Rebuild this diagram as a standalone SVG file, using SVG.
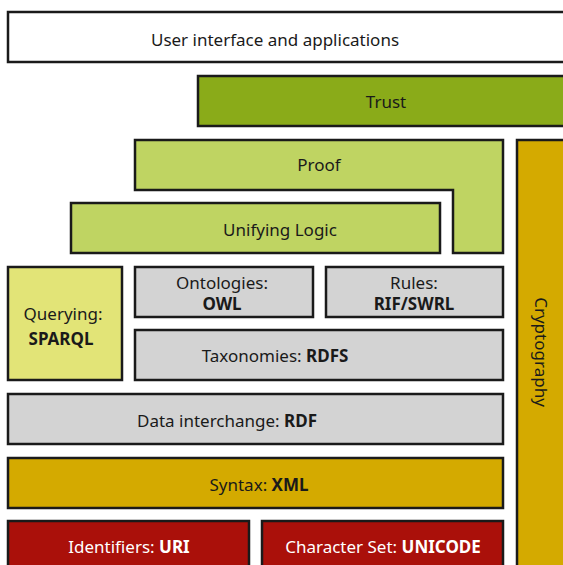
<svg xmlns="http://www.w3.org/2000/svg" width="563" height="565" viewBox="0 0 563 565">
<style>
.n { stroke: #1a1a1a; stroke-width: 2.5; }
text { font-family: "Noto Sans", "Open Sans", sans-serif; font-size: 17px; fill: #1a1a1a; text-anchor: middle; }
.b { font-weight: bold; }
.w { fill: #ffffff; }
.white { fill: #ffffff; }
.trust { fill: #8aab19; }
.lg { fill: #bfd462; }
.q { fill: #e2e477; }
.grey { fill: #d3d3d3; }
.gold { fill: #d4aa00; }
.red { fill: #aa100a; }
</style>
<rect width="563" height="565" fill="#ffffff"/>
<g id="ui"><rect class="n white" x="8" y="12" width="570" height="50"/><text x="275" y="46">User interface and applications</text></g>
<g id="trust"><rect class="n trust" x="198" y="76" width="380" height="50"/><text x="386" y="108">Trust</text></g>
<g id="proof"><path class="n lg" d="M135 140 H503 V253 H453 V190 H135 Z"/><text x="319" y="171">Proof</text></g>
<g id="logic"><rect class="n lg" x="71" y="203" width="369" height="50"/><text x="280" y="236">Unifying Logic</text></g>
<g id="crypto"><rect class="n gold" x="517" y="140" width="60" height="440"/><text transform="translate(535 352) rotate(90)">Cryptography</text></g>
<g id="query"><rect class="n q" x="8" y="267" width="114" height="113"/><text x="63" y="320">Querying:</text><text class="b" x="61" y="345">SPARQL</text></g>
<g id="owl"><rect class="n grey" x="135" y="267" width="178" height="50"/><text x="222" y="289">Ontologies:</text><text class="b" x="222" y="310">OWL</text></g>
<g id="rules"><rect class="n grey" x="326" y="267" width="177" height="50"/><text x="414" y="289">Rules:</text><text class="b" x="414" y="310">RIF/SWRL</text></g>
<g id="rdfs"><rect class="n grey" x="135" y="330" width="368" height="50"/><text x="275" y="362">Taxonomies: <tspan class="b">RDFS</tspan></text></g>
<g id="rdf"><rect class="n grey" x="8" y="394" width="495" height="50"/><text x="227" y="427">Data interchange: <tspan class="b">RDF</tspan></text></g>
<g id="xml"><rect class="n gold" x="8" y="458" width="495" height="50"/><text x="259" y="491">Syntax: <tspan class="b">XML</tspan></text></g>
<g id="uri"><rect class="n red" x="8" y="521" width="241" height="60"/><text class="w" x="129" y="553">Identifiers: <tspan class="b">URI</tspan></text></g>
<g id="unicode"><rect class="n red" x="262" y="521" width="241" height="60"/><text class="w" x="383" y="553">Character Set: <tspan class="b">UNICODE</tspan></text></g>
<g id="connectors"></g>
</svg>
